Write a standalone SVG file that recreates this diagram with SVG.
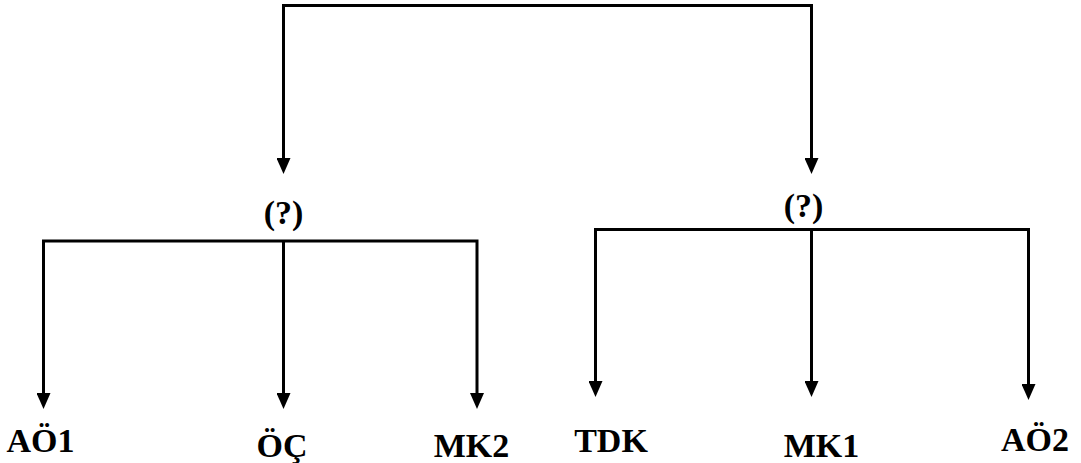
<svg xmlns="http://www.w3.org/2000/svg" width="1081" height="463" viewBox="0 0 1081 463">
  <style>
    .wire { fill: none; stroke: #000; stroke-width: 3; stroke-linejoin: miter; }
    .lbl { font-family: "Liberation Serif", "Times New Roman", serif; font-weight: bold; font-size: 34px; fill: #000; text-anchor: middle; }
  </style>
  <defs>
    <marker id="head" viewBox="0 0 16 14" refX="1" refY="7" markerWidth="16" markerHeight="14" markerUnits="userSpaceOnUse" orient="auto-start-reverse">
      <path d="M0,0 L16,7 L0,14 Z" fill="#000"/>
    </marker>
  </defs>
  <rect width="1081" height="463" fill="#fff"/>

  <g id="connectors">
    <!-- root split -->
    <path class="wire" d="M283.5,159 V5.5 H811.5 V159" marker-start="url(#head)" marker-end="url(#head)"/>
    <!-- left branch -->
    <path class="wire" d="M43.5,394 V241 H477 V394" marker-start="url(#head)" marker-end="url(#head)"/>
    <path class="wire" d="M283.5,241 V394" marker-end="url(#head)"/>
    <!-- right branch -->
    <path class="wire" d="M595.5,382 V229.5 H1028.5 V385" marker-start="url(#head)" marker-end="url(#head)"/>
    <path class="wire" d="M811.5,229.5 V382" marker-end="url(#head)"/>
  </g>

  <g id="split-left"><text class="lbl" x="283.5" y="224">(?)</text></g>
  <g id="split-right"><text class="lbl" x="803.5" y="217">(?)</text></g>

  <g id="AO1"><text class="lbl" x="40.5" y="452">AÖ1</text></g>
  <g id="OC"><text class="lbl" x="282" y="457">ÖÇ</text></g>
  <g id="MK2"><text class="lbl" x="471.5" y="457">MK2</text></g>
  <g id="TDK"><text class="lbl" x="611" y="452">TDK</text></g>
  <g id="MK1"><text class="lbl" x="821.5" y="457">MK1</text></g>
  <g id="AO2"><text class="lbl" x="1035" y="451">AÖ2</text></g>
</svg>
